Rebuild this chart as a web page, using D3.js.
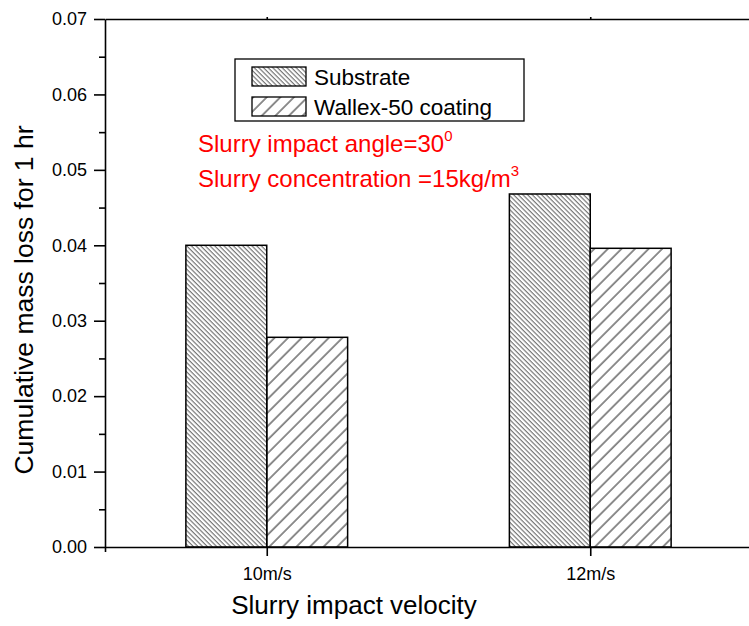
<!DOCTYPE html>
<html>
<head>
<meta charset="utf-8">
<script src="https://cdnjs.cloudflare.com/ajax/libs/d3/7.8.5/d3.min.js"></script>
<style>
  body { margin: 0; background: #fff; }
  text { font-family: Arial, "Liberation Sans", sans-serif; }
</style>
</head>
<body>
<svg id="chart" width="749" height="626"></svg>
<script>
// data
const categories = ["10m/s", "12m/s"];
const substrate = [0.0400, 0.0468];
const coating = [0.0278, 0.0396];
const seriesNames = ["Substrate", "Wallex-50 coating"];
const yMajor = [0, 0.01, 0.02, 0.03, 0.04, 0.05, 0.06, 0.07];
const yMinor = [0.005, 0.015, 0.025, 0.035, 0.045, 0.055, 0.065];

const FONT = "Arial, 'Liberation Sans', sans-serif";

function getConfig() {
    const svg = d3.select("#chart");
    const x = d3.scaleLinear().domain([0.5, 2.5]).range([105, 752]);
    const y = d3.scaleLinear().domain([0, 0.07]).range([547, 19]);
    return {svg, x, y};
}

function addPatterns(svg) {
    const defs = svg.append("defs");
    // dense "\" hatch for substrate
    const p1 = defs.append("pattern")
        .attr("id", "hatchBack")
        .attr("patternUnits", "userSpaceOnUse")
        .attr("width", 3.3).attr("height", 10)
        .attr("patternTransform", "rotate(-45)");
    p1.append("line")
        .attr("x1", 1).attr("y1", 0).attr("x2", 1).attr("y2", 10)
        .attr("stroke", "#000").attr("stroke-width", 0.7);
    // wider "/" hatch for coating
    const p2 = defs.append("pattern")
        .attr("id", "hatchFwd")
        .attr("patternUnits", "userSpaceOnUse")
        .attr("width", 9.6).attr("height", 10)
        .attr("patternTransform", "rotate(45)");
    p2.append("line")
        .attr("x1", 1).attr("y1", 0).attr("x2", 1).attr("y2", 10)
        .attr("stroke", "#000").attr("stroke-width", 0.9);
}

function drawBars(cfg) {
    const {svg, x, y} = cfg;
    const w = 0.25;
    const rows = categories.map((c, i) => ({i: i + 1, s: substrate[i], c: coating[i]}));

    svg.selectAll("rect.sub")
        .data(rows)
        .enter()
        .append("rect")
        .attr("class", "sub")
        .attr("x", d => x(d.i - w))
        .attr("y", d => y(d.s))
        .attr("width", d => x(d.i) - x(d.i - w))
        .attr("height", d => y(0) - y(d.s))
        .attr("fill", "url(#hatchBack)")
        .attr("stroke", "#000")
        .attr("stroke-width", 1.5);

    svg.selectAll("rect.coat")
        .data(rows)
        .enter()
        .append("rect")
        .attr("class", "coat")
        .attr("x", d => x(d.i))
        .attr("y", d => y(d.c))
        .attr("width", d => x(d.i + w) - x(d.i))
        .attr("height", d => y(0) - y(d.c))
        .attr("fill", "url(#hatchFwd)")
        .attr("stroke", "#000")
        .attr("stroke-width", 1.5);
}

function drawAxes(cfg) {
    const {svg, x, y} = cfg;
    const fmt = d3.format(".2f");

    // left axis
    const left = svg.append("g").attr("transform", "translate(105,0)");
    left.call(d3.axisLeft(y).tickValues(yMajor).tickSize(11).tickSizeOuter(0).tickFormat(fmt).tickPadding(7));
    left.append("g").call(d3.axisLeft(y).tickValues(yMinor).tickSize(6).tickFormat(""))
        .select(".domain").remove();
    left.selectAll("text").attr("font-size", 18).attr("fill", "#000").attr("font-family", FONT);

    // bottom axis
    const bottom = svg.append("g").attr("transform", "translate(0,547)");
    bottom.call(d3.axisBottom(x).tickValues([1, 2]).tickSize(9).tickSizeOuter(0)
        .tickFormat(d => categories[d - 1]).tickPadding(11));
    bottom.append("g").call(d3.axisBottom(x).tickValues([0.5]).tickSize(5).tickFormat(""))
        .select(".domain").remove();
    bottom.selectAll("text").attr("font-size", 18).attr("fill", "#000").attr("font-family", FONT);

    // top axis
    const top = svg.append("g").attr("transform", "translate(0,19)");
    top.call(d3.axisTop(x).tickValues([1, 2]).tickSize(2).tickSizeOuter(0).tickFormat(""));

    svg.selectAll(".domain, .tick line").attr("stroke", "#000").attr("stroke-width", 1.6);
}

function drawText(cfg) {
    const {svg} = cfg;

    svg.append("text")
        .attr("transform", "translate(33,300) rotate(-90)")
        .attr("text-anchor", "middle")
        .attr("font-size", 26.5)
        .text("Cumulative mass loss for 1 hr");

    svg.append("text")
        .attr("x", 354).attr("y", 614)
        .attr("text-anchor", "middle")
        .attr("font-size", 26)
        .text("Slurry impact velocity");

    // legend
    svg.append("rect")
        .attr("x", 235).attr("y", 59).attr("width", 289).attr("height", 62)
        .attr("fill", "#fff").attr("stroke", "#000").attr("stroke-width", 1.3);
    const fills = ["url(#hatchBack)", "url(#hatchFwd)"];
    const legend = svg.selectAll("g.leg")
        .data(seriesNames)
        .enter()
        .append("g")
        .attr("class", "leg")
        .attr("transform", (d, i) => `translate(252,${67 + i * 30})`);
    legend.append("rect")
        .attr("width", 54).attr("height", 19)
        .attr("fill", (d, i) => fills[i])
        .attr("stroke", "#000").attr("stroke-width", 1.3);
    legend.append("text")
        .attr("x", 62).attr("y", 18)
        .attr("font-size", 22.5)
        .text(d => d);

    // annotations
    const a1 = svg.append("text").attr("x", 198).attr("y", 152).attr("font-size", 24).attr("fill", "#ff0000");
    a1.append("tspan").text("Slurry impact angle=30");
    a1.append("tspan").attr("dy", -11).attr("font-size", 15).text("0");
    const a2 = svg.append("text").attr("x", 198).attr("y", 187).attr("font-size", 24).attr("fill", "#ff0000");
    a2.append("tspan").text("Slurry concentration =15kg/m");
    a2.append("tspan").attr("dy", -11).attr("font-size", 15).text("3");
}

const cfg = getConfig();
addPatterns(cfg.svg);
drawBars(cfg);
drawAxes(cfg);
drawText(cfg);
</script>
</body>
</html>
